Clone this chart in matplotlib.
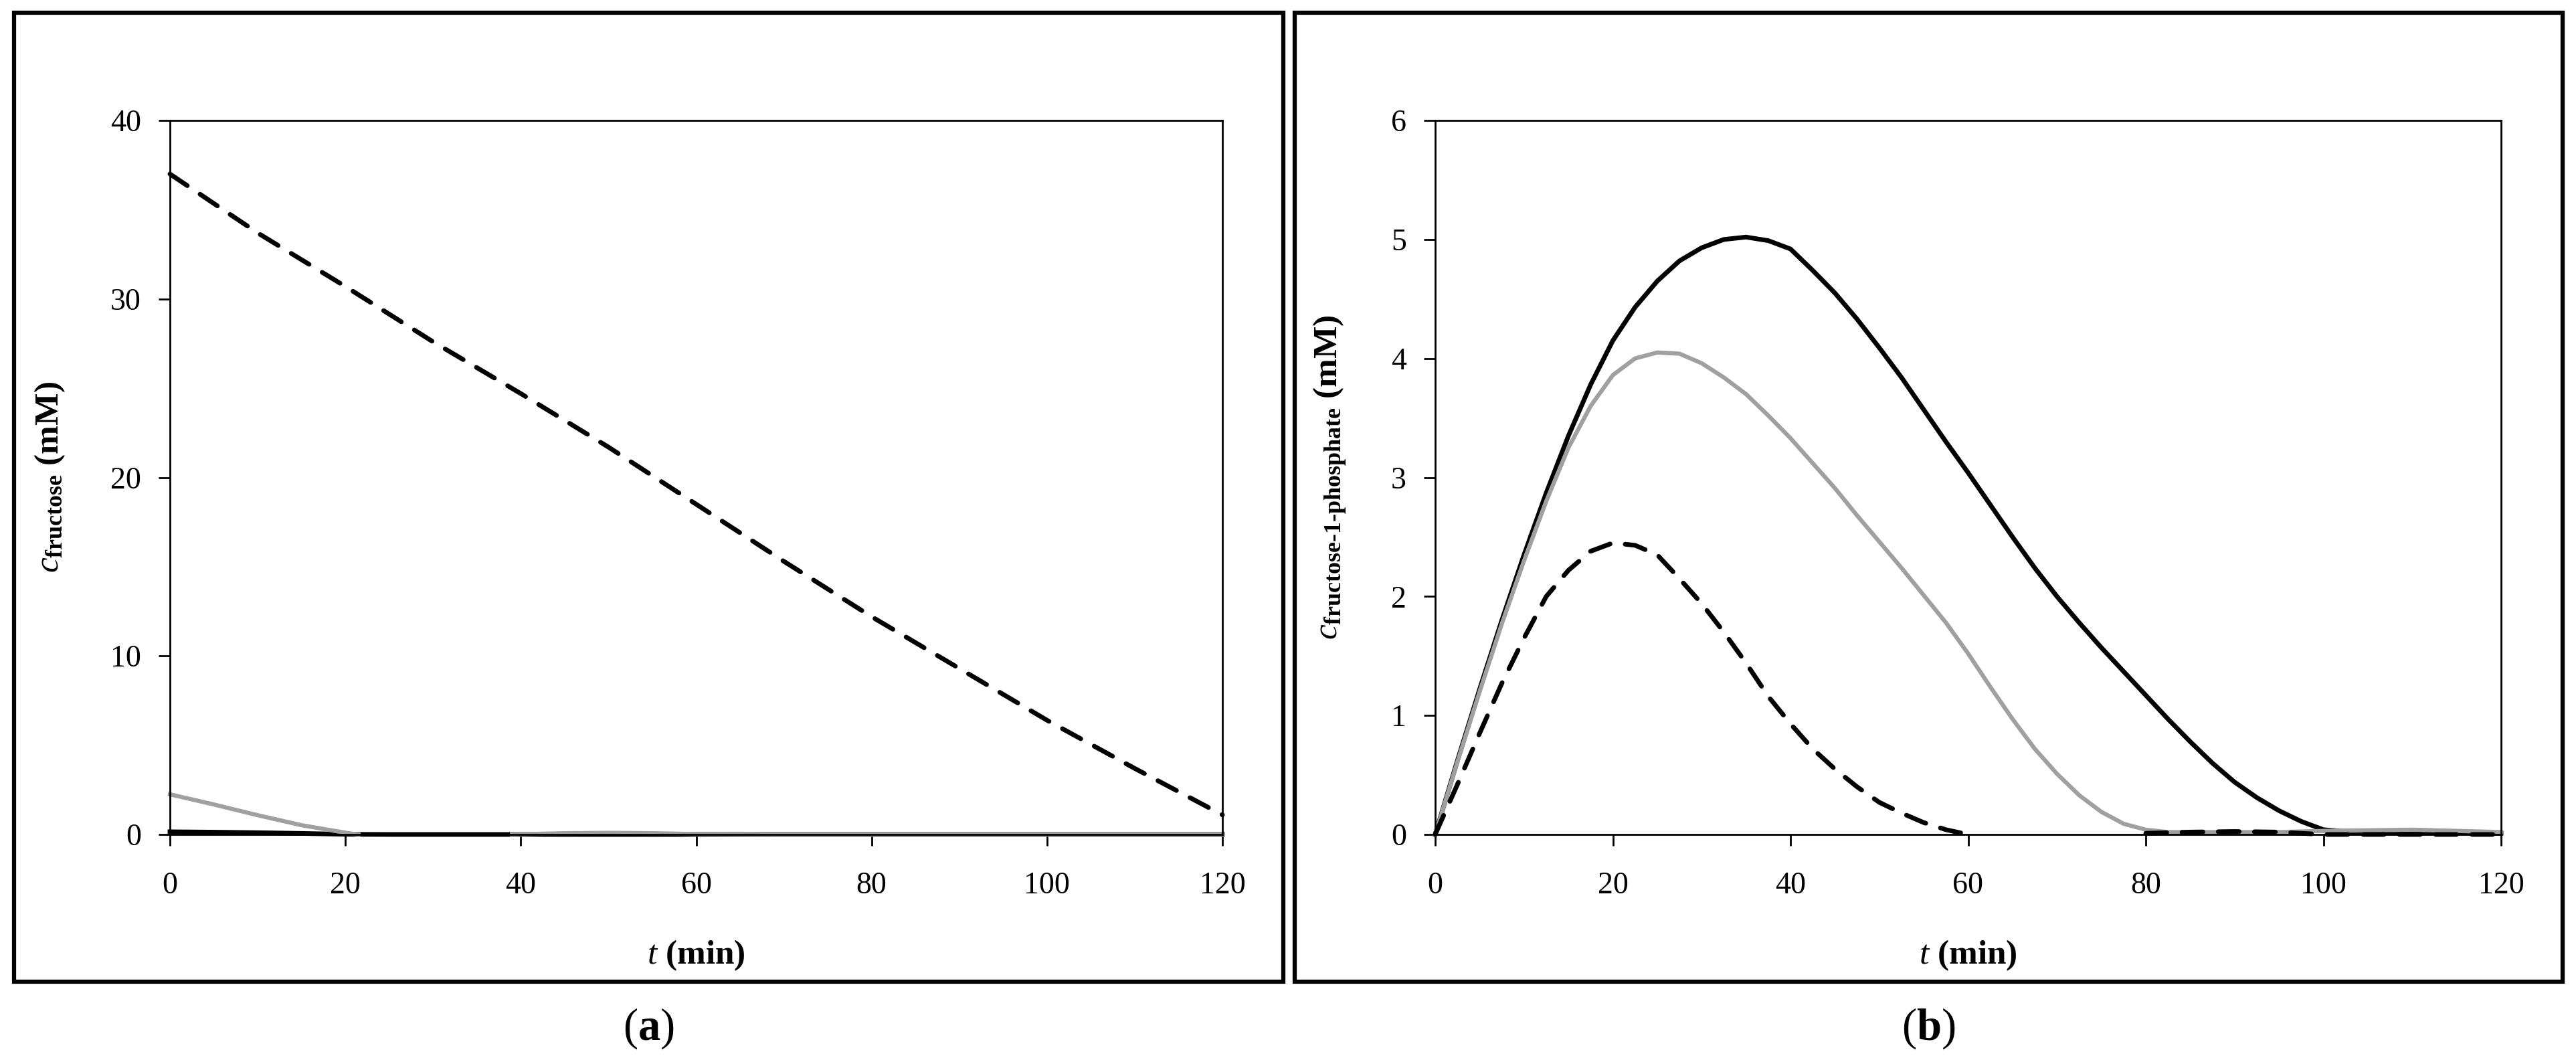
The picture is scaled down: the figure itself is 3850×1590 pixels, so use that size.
import numpy as np
import matplotlib
matplotlib.use('Agg')
import matplotlib.pyplot as plt
from matplotlib.patches import Rectangle

plt.rcParams['font.family'] = 'Liberation Serif'
plt.rcParams['mathtext.fontset'] = 'custom'
plt.rcParams['mathtext.rm'] = 'Liberation Serif'
plt.rcParams['mathtext.it'] = 'Liberation Serif:italic'
plt.rcParams['mathtext.bf'] = 'Liberation Serif:bold'

nan = np.nan

# (a) fructose concentration
t_a = [0, 10, 20, 30, 40, 50, 60, 70, 80, 90, 100, 110, 120]
fru_dashed = [37.0, 33.7, 30.7, 27.6, 24.7, 21.7, 18.5, 15.3, 12.2, 9.3, 6.4, 3.7, 1.1]

t_a_black = [0, 5, 10, 15, 20, 25, 40, 60, 80, 100, 120]
fru_black = [0.15, 0.13, 0.10, 0.06, 0.01, 0.0, 0.0, 0.0, 0.0, 0.0, 0.0]

t_a_grey = [0, 5, 10, 15, 20, 21.5, nan, 39, 45, 50, 55, 60, 70, 80, 90, 100, 110, 120]
fru_grey = [2.25, 1.68, 1.08, 0.52, 0.10, 0.0, nan, 0.0, 0.07, 0.09, 0.07, 0.02,
            0.0, 0.0, 0.0, 0.0, 0.0, 0.0]

# (b) fructose-1-phosphate concentration
t_b = list(np.arange(0, 100.1, 2.5)) + [105, 110, 115, 120]
f1p_black = [0, 0.62, 1.22, 1.80, 2.35, 2.87, 3.35, 3.78, 4.15, 4.43, 4.65, 4.82,
             4.93, 5.00, 5.02, 4.99, 4.92, 4.74, 4.55, 4.33, 4.09, 3.84, 3.57, 3.30,
             3.04, 2.77, 2.50, 2.24, 2.00, 1.78, 1.57, 1.37, 1.17, 0.97, 0.78, 0.60,
             0.44, 0.31, 0.20, 0.11, 0.04, 0.01, 0.02, 0.015, 0.01]
f1p_grey = [0, 0.61, 1.20, 1.77, 2.30, 2.80, 3.25, 3.60, 3.86, 4.00, 4.05, 4.04,
            3.96, 3.84, 3.70, 3.52, 3.33, 3.12, 2.91, 2.68, 2.46, 2.24, 2.01, 1.78,
            1.52, 1.24, 0.97, 0.72, 0.51, 0.33, 0.19, 0.09, 0.04, 0.02, 0.02, 0.02,
            0.02, 0.02, 0.02, 0.025, 0.03, 0.035, 0.04, 0.03, 0.02]

t_b_dash = [0, 2.5, 5, 7.5, 10, 12.5, 15, 17.5, 20, 22.5, 25, 27.5, 30, 32.5, 35,
            37.5, 40, 42.5, 45, 47.5, 50, 52.5, 55, 57.5, 60, nan,
            80, 85, 90, 95, 100, 105, 110, 115, 120]
f1p_dashed = [0, 0.42, 0.85, 1.27, 1.65, 2.0, 2.22, 2.38, 2.45, 2.43, 2.35, 2.15,
              1.94, 1.70, 1.44, 1.16, 0.93, 0.72, 0.55, 0.40, 0.27, 0.18, 0.10, 0.04, 0.0, nan,
              0.01, 0.02, 0.025, 0.02, 0.0, 0.0, 0.0, 0.0, 0.0]

GREY = '#a0a0a0'
DASH = (0, (4.5, 3.3))
W, H = 3850, 1590


def style_axes(ax, ymax, ystep):
    ax.set_xlim(0, 120)
    ax.set_ylim(0, ymax)
    ax.set_xticks(range(0, 121, 20))
    ax.set_yticks(np.arange(0, ymax + 0.001, ystep))
    for s in ax.spines.values():
        s.set_linewidth(2.0)
    ax.tick_params(direction='out', length=12, width=2, labelsize=33)
    ax.tick_params(axis='x', pad=28)
    ax.tick_params(axis='y', pad=19)


fig = plt.figure(figsize=(W / 100, H / 100), dpi=100)

ax_a = fig.add_axes([254 / W, 1 - 1247 / H, 1573 / W, 1067 / H])
ax_a.plot(t_a_black, fru_black, color='black', lw=5, clip_on=False)
ax_a.plot(t_a_grey, fru_grey, color=GREY, lw=4.5, clip_on=False)
ax_a.plot(t_a, fru_dashed, color='black', lw=5, linestyle=DASH,
          dash_capstyle='round', clip_on=False)
style_axes(ax_a, 40, 10)

ax_b = fig.add_axes([2145 / W, 1 - 1247 / H, 1593 / W, 1067 / H])
ax_b.plot(t_b, f1p_black, color='black', lw=5, clip_on=False)
ax_b.plot(t_b, f1p_grey, color=GREY, lw=4.5, clip_on=False)
ax_b.plot(t_b_dash, f1p_dashed, color='black', lw=5, linestyle=DASH,
          dash_capstyle='round', clip_on=False)
style_axes(ax_b, 6, 1)

# axis labels
fig.text(1040 / W, 1 - 1428 / H, r'$\mathit{t}$ (min)', fontsize=37,
         fontweight='bold', ha='center', va='center')
fig.text(2941 / W, 1 - 1428 / H, r'$\mathit{t}$ (min)', fontsize=37,
         fontweight='bold', ha='center', va='center')
fig.text(75 / W, 1 - 713 / H, r'$\mathit{c}_{\mathbf{fructose}}$ (mM)', fontsize=37,
         fontweight='bold', rotation=90, ha='center', va='center')
fig.text(1988 / W, 1 - 713 / H, r'$\mathit{c}_{\mathbf{fructose‐1‐phosphate}}$ (mM)',
         fontsize=37, fontweight='bold', rotation=90, ha='center', va='center')

# panel frames and captions
for x0, x1, lab in [(21, 1918, 'a'), (1935, 3830, 'b')]:
    fig.patches.append(Rectangle((x0 / W, 1 - 1467 / H), (x1 - x0) / W, 1448 / H,
                                 transform=fig.transFigure, fill=False,
                                 edgecolor='black', lw=4.5))
    fig.text((x0 + x1) / 2 / W, 1 - 1537 / H, r'($\mathbf{%s}$)' % lab,
             fontsize=48, ha='center', va='center')

fig.savefig('out.png', dpi=100)
